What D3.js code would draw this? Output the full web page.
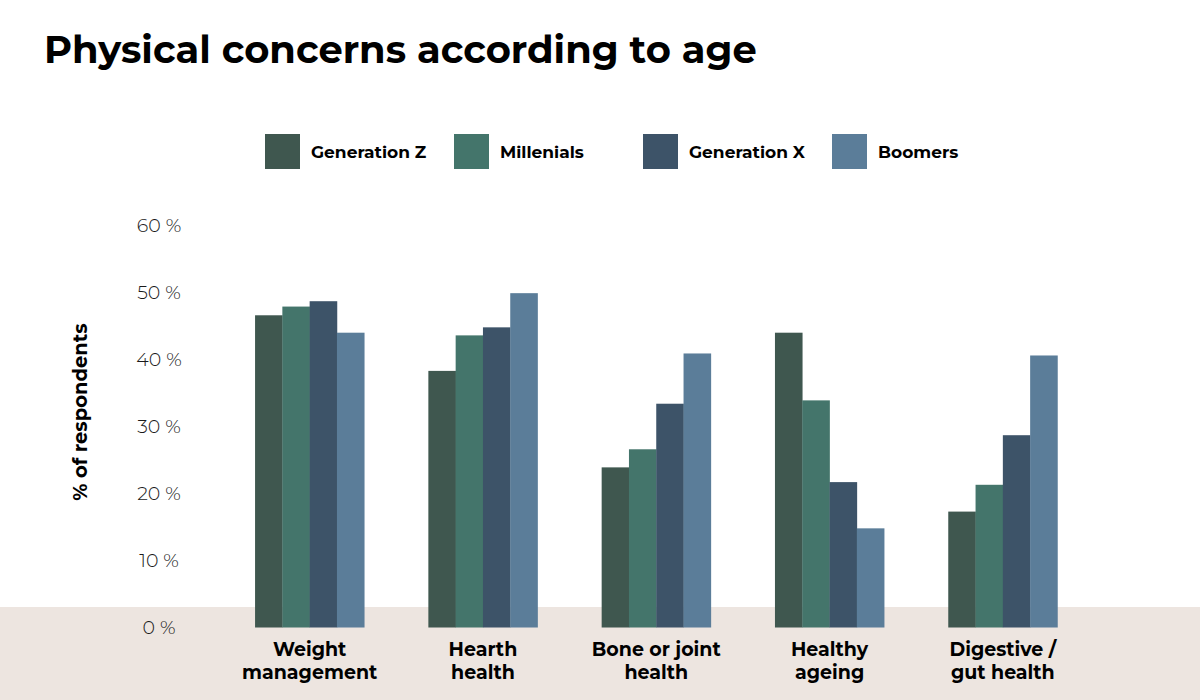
<!DOCTYPE html>
<html>
<head>
<meta charset="utf-8">
<script src="https://cdn.jsdelivr.net/npm/d3@7/dist/d3.min.js"></script>
<style>
  html, body { margin: 0; padding: 0; background: #ffffff; }
  svg { display: block; }
</style>
</head>
<body>
<svg id="chart" width="1200" height="700"></svg>
<script>
// ---- data ----
const categories = [["Weight", "management"], ["Hearth", "health"], ["Bone or joint", "health"], ["Healthy", "ageing"], ["Digestive /", "gut health"]];
const seriesNames = ["Generation Z", "Millenials", "Generation X", "Boomers"];
const genZ = [46.6, 38.3, 23.9, 44.0, 17.3];
const millenials = [47.9, 43.6, 26.6, 33.9, 21.3];
const genX = [48.7, 44.8, 33.4, 21.7, 28.7];
const boomers = [44.0, 49.9, 40.9, 14.8, 40.6];
const yTicks = [0, 10, 20, 30, 40, 50, 60];

const seriesValues = [genZ, millenials, genX, boomers];
const colors = ["#3f574f", "#44756b", "#3d5368", "#5b7d99"];

const svg = d3.select("#chart");
const W = 1200, H = 700;

// beige band
svg.append("rect").attr("x", 0).attr("y", 607).attr("width", W).attr("height", H - 607).attr("fill", "#ede5e0");

// title
const title = svg.append("text")
  .attr("x", 44).attr("y", 63)
  .attr("font-family", "Montserrat, 'Open Sans', sans-serif")
  .attr("font-weight", 700)
  .attr("font-size", 40)
  .attr("fill", "#000")
  .text("Physical concerns according to age");
(function fit(){
  const target = 713;
  const len = title.node().getComputedTextLength();
  if (len > 0) title.attr("font-size", 40 * target / len);
})();

// scales
const x0 = d3.scaleBand().domain(d3.range(categories.length)).range([223, 1089.5]).paddingInner(0.37).paddingOuter(0.185);
const x1 = d3.scaleBand().domain(d3.range(seriesNames.length)).range([0, x0.bandwidth()]).padding(0);
const y = d3.scaleLinear().domain([0, 60]).range([627.5, 225.5]);

// y ticks
svg.append("g").selectAll("text").data(yTicks).join("text")
  .attr("x", 159).attr("y", d => y(d)).attr("dy", "0.35em")
  .attr("text-anchor", "middle")
  .attr("font-family", "Montserrat, Lato, 'Open Sans', sans-serif")
  .attr("font-weight", 300)
  .attr("font-size", 19)
  .attr("fill", "#1a1a1a")
  .text(d => d + " %");

// y title
svg.append("text")
  .attr("transform", "translate(87,412) rotate(-90)")
  .attr("text-anchor", "middle")
  .attr("font-family", "Montserrat, 'Open Sans', sans-serif")
  .attr("font-weight", 700)
  .attr("font-size", 19.5)
  .attr("fill", "#000")
  .text("% of respondents");

// bars
const groups = svg.append("g").selectAll("g").data(categories).join("g")
  .attr("transform", (d, i) => `translate(${x0(i)},0)`);
groups.selectAll("rect").data((d, i) => seriesValues.map((s, j) => ({ j, v: s[i] }))).join("rect")
  .attr("x", d => x1(d.j))
  .attr("width", x1.bandwidth() + 0.3)
  .attr("y", d => y(d.v))
  .attr("height", d => y(0) - y(d.v))
  .attr("fill", d => colors[d.j]);

// x labels
const xl = svg.append("g").selectAll("text").data(categories).join("text")
  .attr("x", (d, i) => x0(i) + x0.bandwidth() / 2)
  .attr("y", 656)
  .attr("text-anchor", "middle")
  .attr("font-family", "Montserrat, 'Open Sans', sans-serif")
  .attr("font-weight", 700)
  .attr("font-size", 19)
  .attr("fill", "#000");
xl.selectAll("tspan").data(d => d).join("tspan")
  .attr("x", function() { return this.parentNode.getAttribute("x"); })
  .attr("dy", (d, i) => i === 0 ? 0 : 23)
  .text(d => d);

// legend
const legendX = [265, 454, 643, 832];
const lg = svg.append("g").selectAll("g").data(seriesNames).join("g")
  .attr("transform", (d, i) => `translate(${legendX[i]},134)`);
lg.append("rect").attr("width", 35).attr("height", 35).attr("fill", (d, i) => colors[i]);
lg.append("text").attr("x", 46).attr("y", 24)
  .attr("font-family", "Montserrat, 'Open Sans', sans-serif")
  .attr("font-weight", 700)
  .attr("font-size", 17)
  .attr("fill", "#000")
  .text(d => d);
</script>
</body>
</html>
